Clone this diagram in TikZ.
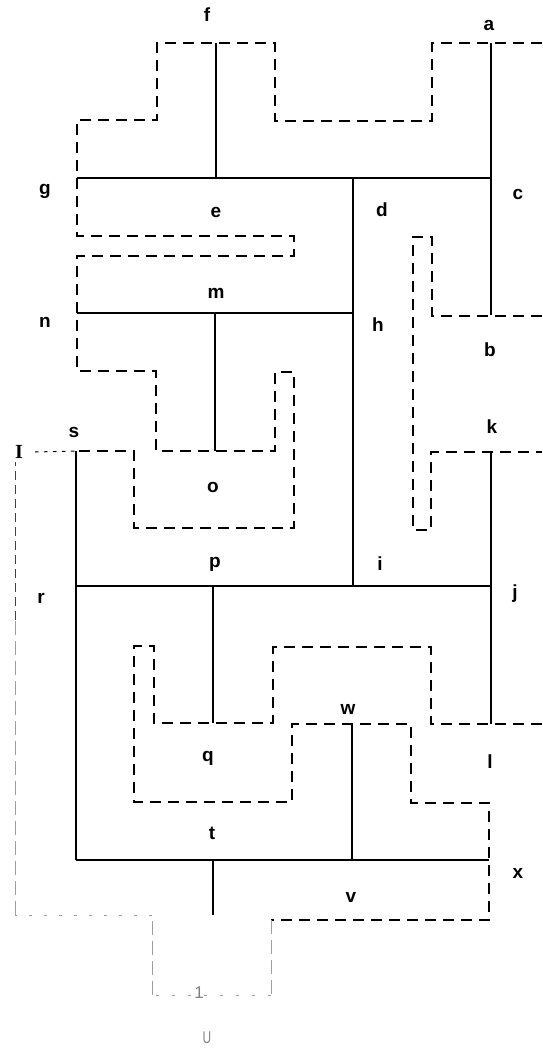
\documentclass[tikz,border=0pt]{standalone}
\usepackage{fontspec}
\setmainfont{Liberation Sans}
\newfontfamily\platefont{Liberation Serif}
\tikzset{
  edge/.style={line width=2.3pt},
  contour/.style={line width=1.9pt, dash pattern=on 11pt off 7pt},
  faded/.style={black!38, line width=1pt},
  lbl/.style={font=\bfseries\fontsize{19}{23}\selectfont, inner sep=0pt},
}
\begin{document}
\begin{tikzpicture}[x=1pt, y=-1pt]
    \useasboundingbox (0,0) rectangle (542,1049);
    % Vertices of the tree
    \coordinate (a) at (491,43);   \coordinate (f) at (216,43);
    \coordinate (g) at (77,178);   \coordinate (e) at (216,178);
    \coordinate (d) at (353,178);  \coordinate (c) at (491,178);
    \coordinate (n) at (77,313);   \coordinate (m) at (215,313);
    \coordinate (h) at (353,313);  \coordinate (b) at (491,315);
    \coordinate (s) at (76,451);   \coordinate (o) at (215,451);
    \coordinate (k) at (491,452);
    \coordinate (r) at (76,586);   \coordinate (p) at (213,586);
    \coordinate (i) at (353,586);  \coordinate (j) at (491,586);
    \coordinate (q) at (213,723);  \coordinate (w) at (352,724);
    \coordinate (l) at (491,724);
    \coordinate (tl) at (76,860);  \coordinate (t) at (213,860);
    \coordinate (v) at (352,860);  \coordinate (x) at (489,860);
    \coordinate (u) at (213,915);
    % Edges
    \draw[edge] (g) -- (c);
    \draw[edge] (e) -- (f);
    \draw[edge] (a) -- (b);
    \draw[edge] (d) -- (i);
    \draw[edge] (n) -- (h);
    \draw[edge] (m) -- (o);
    \draw[edge] (s) -- (tl);
    \draw[edge] (r) -- (j);
    \draw[edge] (k) -- (l);
    \draw[edge] (p) -- (q);
    \draw[edge] (w) -- (v);
    \draw[edge] (tl) -- (x);
    \draw[edge] (t) -- (u);
    % Contour
    \draw[contour] (542,43) -- (432,43) -- (432,121) -- (275,121) -- (275,43)
        -- (157,43) -- (157,120) -- (77,120) -- (77,236) -- (294,236)
        -- (294,256) -- (77,256) -- (77,371) -- (156,371) -- (156,451)
        -- (275,451) -- (275,372) -- (294,372) -- (294,528) -- (134,528)
        -- (134,451) -- (s);
    \draw[contour] (542,316) -- (432,316) -- (432,237) -- (413,237)
        -- (413,530) -- (431,530) -- (431,452) -- (542,452);
    \draw[contour] (542,724) -- (431,724) -- (431,647) -- (273,647)
        -- (273,723) -- (154,723) -- (154,646) -- (134,646) -- (134,802)
        -- (292,802) -- (292,724) -- (411,724) -- (411,803) -- (489,803)
        -- (489,920) -- (271,920);
    % Faded part
    \draw[faded, dash pattern=on 14pt off 6pt] (271,920) -- (271,995);
    \draw[faded, dash pattern=on 3pt off 13pt] (271,995) -- (152,995);
    \draw[faded, dash pattern=on 14pt off 6pt] (152,995) -- (152,915);
    \draw[faded, dash pattern=on 3pt off 12pt] (152,915) -- (15,915);
    \draw[faded, dash pattern=on 14pt off 6pt] (15,915) -- (15,620);
    \draw[faded, black!75, dash pattern=on 9pt off 5pt] (15,620) -- (15,462);
    \draw[line width=1pt, dash pattern=on 3.5pt off 5.5pt] (35,452) -- (s);
    % Labels
    \node[lbl] (la) at (489,25) {a};
    \node[lbl] (lf) at (207,15) {f};
    \node[lbl] (lg) at (45,191) {g};
    \node[lbl] (lc) at (518,194) {c};
    \node[lbl] (le) at (216,212) {e};
    \node[lbl] (ld) at (382,210) {d};
    \node[lbl] (lm) at (216,293) {m};
    \node[lbl] (ln) at (45,322) {n};
    \node[lbl] (lh) at (378,325) {h};
    \node[lbl] (lb) at (490,350) {b};
    \node[lbl] (ls) at (74,432) {s};
    \node[lbl] (lk) at (492,427) {k};
    \node[lbl] (lo) at (213,487) {o};
    \node[lbl] (lp) at (215,564) {p};
    \node[lbl] (li) at (380,564) {i};
    \node[lbl] (lr) at (41,598) {r};
    \node[lbl] (lj) at (515,594) {j};
    \node[lbl] (lw) at (348,709) {w};
    \node[lbl] (lq) at (208,758) {q};
    \node[lbl] (ll) at (490,762) {l};
    \node[lbl] (lt) at (212,833) {t};
    \node[lbl] (lx) at (518,873) {x};
    \node[lbl] (lv) at (351,897) {v};
    \node[inner sep=0pt, font=\platefont\bfseries\fontsize{20}{24}\selectfont] (lI) at (19,452) {I};
    \node[inner sep=0pt, text=black!50, font=\fontsize{17}{20}\selectfont] (lone) at (199,993) {1};
    \node[inner sep=0pt, text=black!50, font=\fontsize{17}{20}\selectfont, xscale=0.7] (lU) at (207,1038) {U};
\end{tikzpicture}
\end{document}
